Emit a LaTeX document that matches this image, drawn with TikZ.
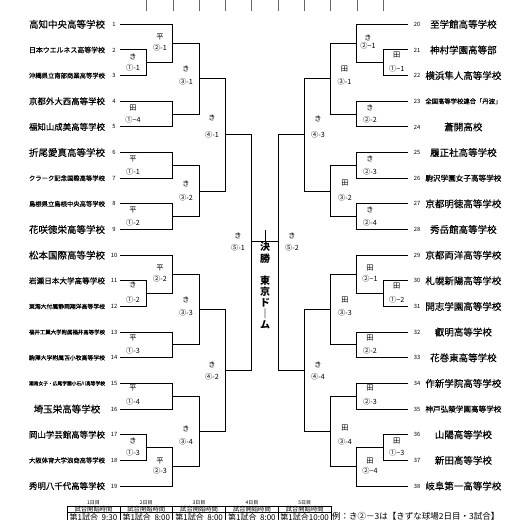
\documentclass[tikz,border=0pt]{standalone}
\usepackage{fontspec}
\setmainfont{Noto Sans CJK JP}
\newfontfamily\namefont[FakeBold=0.35]{Noto Sans CJK JP}
\usepackage{graphicx}
\usetikzlibrary{calc}

\tikzset{bline/.style={line width=1pt},
  tname/.style={font=\namefont\fontsize{9.5}{9.5}\selectfont, inner sep=0pt},
  tnum/.style={font=\fontsize{5.8}{5.8}\selectfont, inner sep=0pt},
  venue/.style={font=\fontsize{7.2}{7.2}\selectfont, inner sep=0pt},
  game/.style={font=\fontsize{7.2}{7.2}\selectfont, inner sep=0pt}}

\newsavebox\nmbox
\newcommand\fitnm[1]{\sbox\nmbox{#1}%
  \ifdim\wd\nmbox>76pt\resizebox{76pt}{!}{\usebox\nmbox}\else\usebox\nmbox\fi}
% one bout: top, bottom, column, winner
\newcommand\bout[4]{\draw[bline] (#1) -| (#3 |- #2) -- (#2);
  \coordinate (#4) at ($(#3 |- #1)!.5!(#3 |- #2)$);}

\begin{document}
\begin{tikzpicture}[x=1pt, y=-1pt]
\useasboundingbox (0,0) rectangle (520,520);
\clip (0,0) rectangle (520,520);

\coordinate (a1) at (146.5,0); \coordinate (a2) at (172.8,0);
\coordinate (a3) at (199.1,0); \coordinate (a4) at (225.4,0);
\coordinate (a5) at (251.7,0); \coordinate (b5) at (278,0);
\coordinate (b4) at (304.3,0); \coordinate (b3) at (330.6,0);
\coordinate (b2) at (356.9,0); \coordinate (b1) at (383.2,0);
\foreach \c in {a1,a2,a3,a4,a5,b5,b4,b3,b2,b1}
  \draw[line width=0.6pt, black!60] (\c) -- ++(0,11);

% teams
\foreach \n/\nm in {1/高知中央高等学校, 2/日本ウエルネス高等学校, 3/沖縄県立南部商業高等学校,
  4/京都外大西高等学校, 5/福知山成美高等学校, 6/折尾愛真高等学校, 7/クラーク記念国際高等学校,
  8/島根県立島根中央高等学校, 9/花咲徳栄高等学校, 10/松本国際高等学校, 11/岩瀬日本大学高等学校,
  12/東海大付属静岡翔洋高等学校, 13/福井工業大学附属福井高等学校, 14/駒澤大学附属苫小牧高等学校,
  15/湘南女子・広尾学園小石川高等学校, 16/埼玉栄高等学校, 17/岡山学芸館高等学校,
  18/大阪体育大学浪商高等学校, 19/秀明八千代高等学校} {
  \node[tname] (n\n) at (67, {24.3+25.65*(\n-1)}) {\fitnm{\nm}};
  \node[tnum] (k\n) at (114, {24.3+25.65*(\n-1)}) {\n};
  \coordinate (L\n) at (120, {24.3+25.65*(\n-1)});
}
\foreach \n/\nm in {20/至学館高等学校, 21/神村学園高等部, 22/横浜隼人高等学校,
  23/全国高等学校連合「丹波」, 24/蒼開高校, 25/履正社高等学校, 26/駒沢学園女子高等学校,
  27/京都明徳高等学校, 28/秀岳館高等学校, 29/京都両洋高等学校, 30/札幌新陽高等学校,
  31/開志学園高等学校, 32/叡明高等学校, 33/花巻東高等学校, 34/作新学院高等学校,
  35/神戸弘陵学園高等学校, 36/山陽高等学校, 37/新田高等学校, 38/岐阜第一高等学校} {
  \node[tname] (n\n) at (463.4, {24.3+25.65*(\n-20)}) {\fitnm{\nm}};
  \node[tnum] (k\n) at (417, {24.3+25.65*(\n-20)}) {\n};
  \coordinate (L\n) at (408, {24.3+25.65*(\n-20)});
}

% left side
\bout{L2}{L3}{a1}{m1}
\bout{L1}{m1}{a2}{m2}
\bout{L4}{L5}{a2}{m3}
\bout{m2}{m3}{a3}{m4}
\bout{L6}{L7}{a2}{m5}
\bout{L8}{L9}{a2}{m6}
\bout{m5}{m6}{a3}{m7}
\bout{m4}{m7}{a4}{m8}
\bout{L11}{L12}{a1}{m9}
\bout{L10}{m9}{a2}{m10}
\bout{L13}{L14}{a2}{m11}
\bout{m10}{m11}{a3}{m12}
\bout{L15}{L16}{a2}{m13}
\bout{L17}{L18}{a1}{m14}
\bout{m14}{L19}{a2}{m15}
\bout{m13}{m15}{a3}{m16}
\bout{m12}{m16}{a4}{m17}
\bout{m8}{m17}{a5}{m18}
% right side
\bout{L21}{L22}{b1}{p1}
\bout{L20}{p1}{b2}{p2}
\bout{L23}{L24}{b2}{p3}
\bout{p2}{p3}{b3}{p4}
\bout{L25}{L26}{b2}{p5}
\bout{L27}{L28}{b2}{p6}
\bout{p5}{p6}{b3}{p7}
\bout{p4}{p7}{b4}{p8}
\bout{L30}{L31}{b1}{p9}
\bout{L29}{p9}{b2}{p10}
\bout{L32}{L33}{b2}{p11}
\bout{p10}{p11}{b3}{p12}
\bout{L34}{L35}{b2}{p13}
\bout{L36}{L37}{b1}{p14}
\bout{p14}{L38}{b2}{p15}
\bout{p13}{p15}{b3}{p16}
\bout{p12}{p16}{b4}{p17}
\bout{p8}{p17}{b5}{p18}

% final
\coordinate (f1) at (251.7,241);
\coordinate (f2) at (278,241);
\coordinate (f0) at (264.85,230);
\draw[bline] (f1) -- (f2);
\draw[line width=0.6pt] (f0) -- (f0 |- f1);
\node[font=\bfseries\fontsize{10}{11.6}\selectfont, align=center, inner sep=0pt] (fin) at (265,252.5) {決\\勝};
\node[font=\bfseries\fontsize{10}{11}\selectfont, align=center, inner sep=0pt] (dome) at (265,302) {東\\京\\ド\\｜\\ム};

% bout labels
\foreach \x/\ya/\yb/\ven/\gam [count=\i] in {133/57/68/き/①-1, 160/37/48/平/②-1,
  133/108/120/田/①−4, 186/69/82/き/③-1, 212/118/135/き/④-1, 133/159/171.7/平/①-1,
  133/210/222.7/平/①-2, 186/183.3/197.3/き/③-2, 238/236/248/き/⑤-1, 160/268.3/278.3/平/②-2,
  133/285/300/き/①-2, 186/300/312.3/き/③-3, 133/338.3/351/平/①-3, 212/364.3/376.7/き/④-2,
  133/388.3/401.7/平/①-4, 186/428.3/441.7/き/③-4, 133/440.7/452.7/き/①-3, 160/461/470.7/平/②-3,
  396.7/55/68.3/田/①−1, 368/38/46/き/②−1, 344.5/69.3/81.7/田/③-1, 370/107.3/120/き/②-2,
  318/118.3/135/き/④-3, 370/159/171.7/き/②-3, 345/183.3/197.3/田/③-2, 370/210/222.7/き/②-4,
  292/236/248/き/⑤-2, 370/268.3/278.3/田/②−1, 396.7/285.7/300/田/①−2, 345/300/312.3/田/③-3,
  370/338.3/351/田/②-2, 318/364.3/376.7/き/④-4, 370/388.3/401.7/田/②-3, 345/428.3/441.7/田/③-4,
  396.7/440.7/452.7/田/①−3, 370/461/470.7/田/②−4} {
  \node[venue] (v\i) at (\x,\ya) {\ven};
  \node[game] (g\i) at (\x,\yb) {\gam};
}

% schedule
\foreach \d/\t [count=\i from 0] in {1/第1試合~~9:30, 2/第1試合~~8:00, 3/第1試合~~8:00,
  4/第1試合~~8:00, 5/第1試合10:00} {
  \draw[line width=0.6pt] ({67.1+52.8*\i},506) rectangle ({119.9+52.8*\i},512.7);
  \draw[line width=0.6pt] ({67.1+52.8*\i},512.7) rectangle ({119.9+52.8*\i},526);
  \node[font=\fontsize{5}{5}\selectfont, inner sep=0pt] (d\d) at ({93.5+52.8*\i},502.7) {\d 日目};
  \node[font=\fontsize{6.3}{6.3}\selectfont, inner sep=0pt] (h\d) at ({93.5+52.8*\i},509.4) {試合開始時間};
  \node[font=\fontsize{8}{8}\selectfont, inner sep=0pt] (s\d) at ({93.5+52.8*\i},517.6) {\t};
}
\node[font=\fontsize{8.5}{8.5}\selectfont, inner sep=0pt, anchor=west] (ex) at (332,516.5) {例：き②－3は【きずな球場2日目・3試合】};
\end{tikzpicture}
\end{document}
